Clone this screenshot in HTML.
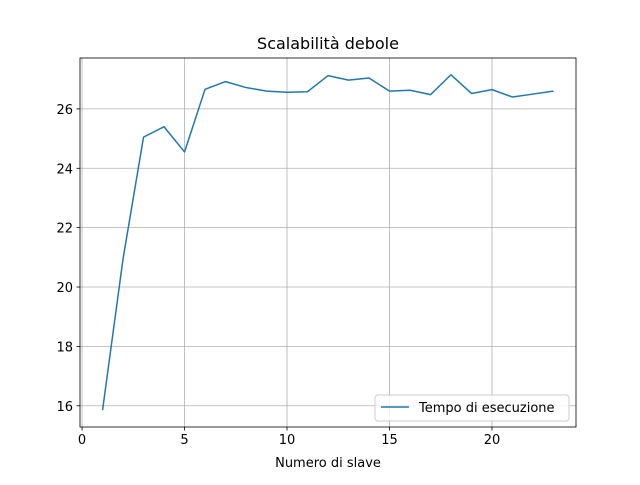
<!DOCTYPE html>
<html><head><meta charset="utf-8"><style>
body{margin:0;background:#fff}
svg text{font-family:"DejaVu Sans","Liberation Sans",sans-serif;fill:#000}
</style></head><body>
<svg id="chart" width="640" height="480">
<rect width="640" height="480" fill="#fff"/>
<g id="grid"></g>
<g id="ticks"></g>
<polyline id="series" fill="none" stroke="#1f77b4" stroke-width="1.5" stroke-linejoin="round"/>
<rect x="80" y="58" width="496" height="369" fill="none" stroke="#000" stroke-width="0.8"/>
<text x="328" y="49" font-size="16" text-anchor="middle">Scalabilità debole</text>
<text x="328" y="467" font-size="13" text-anchor="middle">Numero di slave</text>
<g>
<rect x="375" y="395" width="194" height="26" rx="3" fill="#fff" fill-opacity="0.8" stroke="#ccc"/>
<line x1="381" y1="407" x2="409" y2="407" stroke="#1f77b4" stroke-width="1.5"/>
<text x="419" y="412" font-size="13">Tempo di esecuzione</text>
</g>
</svg>
<script>
const xValues=[1,2,3,4,5,6,7,8,9,10,11,12,13,14,15,16,17,18,19,20,21,22,23];
const yValues=[15.85,20.95,25.05,25.4,24.55,26.66,26.92,26.72,26.6,26.56,26.58,27.12,26.97,27.04,26.6,26.63,26.48,27.15,26.52,26.65,26.4,26.5,26.6];
const xTicks=[0,5,10,15,20];
const yTicks=[16,18,20,22,24,26];
const L=80,R=576,T=58,B=427;
const xmin=-0.1,xmax=24.1,ymin=15.285,ymax=27.715;
const sx=v=>L+(v-xmin)/(xmax-xmin)*(R-L);
const sy=v=>B-(v-ymin)/(ymax-ymin)*(B-T);
const ns="http://www.w3.org/2000/svg";
const grid=document.getElementById('grid'),ticks=document.getElementById('ticks');
function mk(tag,attrs,parent){const e=document.createElementNS(ns,tag);for(const k in attrs)e.setAttribute(k,attrs[k]);parent.appendChild(e);return e;}
xTicks.forEach(t=>{const x=sx(t);
const g=mk('line',{x1:x,x2:x,y1:T,y2:B,stroke:'#b0b0b0','stroke-width':0.8},grid);


const tk=mk('line',{x1:x,x2:x,y1:B,y2:B+3.5,stroke:'#000','stroke-width':0.8},ticks);


const tx=mk('text',{x:x,y:B+17,'font-size':13,'text-anchor':'middle'},ticks);tx.textContent=t;

});
yTicks.forEach(t=>{const y=sy(t);
const g=mk('line',{x1:L,x2:R,y1:y,y2:y,stroke:'#b0b0b0','stroke-width':0.8},grid);


const tk=mk('line',{x1:L-3.5,x2:L,y1:y,y2:y,stroke:'#000','stroke-width':0.8},ticks);


const tx=mk('text',{x:L-7,y:y+5,'font-size':13,'text-anchor':'end'},ticks);tx.textContent=t;

});
document.getElementById('series').setAttribute('points',xValues.map((x,i)=>sx(x)+','+sy(yValues[i])).join(' '));
</script>
</body></html>
